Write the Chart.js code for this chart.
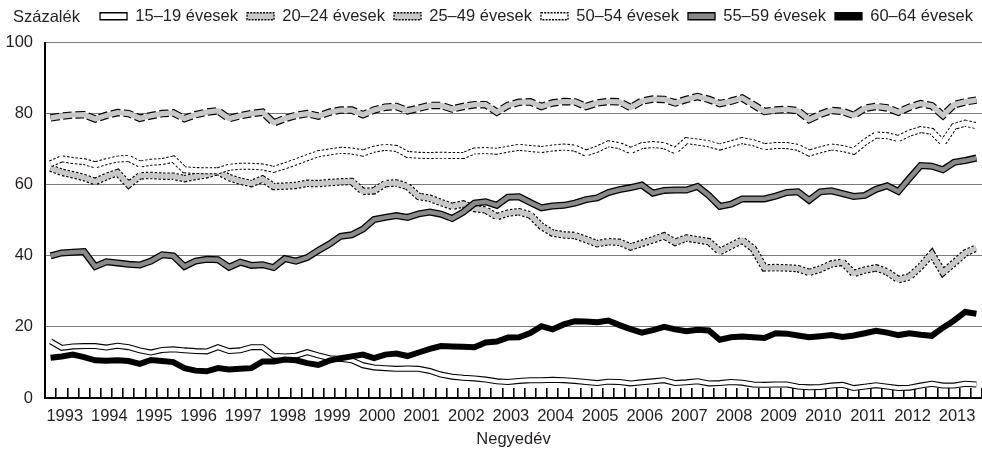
<!DOCTYPE html>
<html><head><meta charset="utf-8">
<script src="https://cdn.jsdelivr.net/npm/chart.js@4.4.1/dist/chart.umd.min.js"></script>
<style>
html,body{margin:0;padding:0;background:#fff;}
#wrap{position:relative;width:982px;height:451px;}
#unit{position:absolute;left:13px;top:8px;font-size:16.5px;line-height:17px;font-family:"Liberation Sans",Arial,sans-serif;color:#231f20;}
</style></head><body>
<div id="wrap"><canvas id="c" width="982" height="451"></canvas><div id="unit">Százalék</div></div>
<script>
const years = ['1993','1994','1995','1996','1997','1998','1999','2000','2001','2002','2003','2004','2005','2006','2007','2008','2009','2010','2011','2012','2013'];
const quarters = ['I.','II.','III.','IV.'];
const categories = years.flatMap(y => quarters.map(q => y + '. ' + q));
const seriesNames = ['15–19 évesek','20–24 évesek','25–49 évesek','50–54 évesek','55–59 évesek','60–64 évesek'];

const s15_19 = [15.9,14.1,14.5,14.6, 14.6,14.2,14.7,14.3, 13.4,12.8,13.5,13.7, 13.4,13.2,13.1,14.3, 13.2,13.4,14.3,14.3, 11.9,11.7,11.9,12.9, 12.0,11.2,11.0,10.6, 9.2,8.6,8.4,8.2, 8.3,8.2,7.6,6.6, 6.0,5.7,5.5,5.2, 4.7,4.5,4.8,5.0, 5.0,5.1,5.0,4.8, 4.5,4.2,4.6,4.5, 4.1,4.4,4.7,5.0, 4.2,4.4,4.7,4.1, 4.2,4.5,4.3,3.8, 3.7,3.8,3.8,3.2, 3.0,3.1,3.5,3.7, 2.8,3.2,3.6,3.2, 2.8,2.9,3.5,4.0, 3.5,3.5,4.0,3.8];
const s20_24 = [64.7,63.5,62.8,62.0, 60.9,62.3,63.4,60.0, 62.5,62.6,62.4,62.4, 61.7,62.3,62.8,63.7, 62.0,61.0,60.3,61.6, 59.5,59.6,59.8,60.4, 60.3,60.6,60.8,60.9, 58.1,58.3,60.3,60.5, 59.5,56.7,56.2,55.0, 53.9,54.6,53.3,52.9, 51.0,52.0,52.4,51.5, 48.3,46.4,45.9,45.7, 44.6,43.4,44.0,43.8, 42.5,43.5,44.5,45.6, 43.8,45.0,44.5,44.0, 41.2,42.8,44.4,42.0, 36.6,36.7,36.6,36.4, 35.3,36.3,37.7,38.2, 35.0,36.0,36.6,35.5, 33.3,34.1,37.0,40.6, 35.3,38.0,40.8,42.2];
const s25_49 = [78.8,79.3,79.6,79.7, 78.5,79.5,80.3,80.0, 78.7,79.4,80.0,80.2, 78.6,79.7,80.4,80.8, 78.6,79.4,80.0,80.4, 77.4,78.6,79.5,80.0, 79.3,80.4,81.0,81.0, 79.7,81.0,81.8,82.0, 80.8,81.5,82.3,82.3, 81.3,82.0,82.5,82.5, 80.4,82.3,83.2,83.3, 82.0,83.0,83.4,83.3, 82.0,83.0,83.4,83.3, 81.7,83.5,84.1,84.0, 83.0,84.0,84.8,84.0, 82.8,83.5,84.4,82.5, 80.6,81.0,81.2,80.8, 78.3,79.8,80.9,80.6, 79.5,81.5,82.0,81.6, 80.4,81.8,82.8,82.2, 79.5,82.5,83.3,83.8];
const s50_54 = [65.9,67.3,66.8,66.5, 65.6,66.5,67.2,67.4, 65.8,66.3,66.5,67.2, 64.2,64.0,63.9,63.9, 64.9,65.2,65.2,65.0, 64.3,65.3,66.4,67.6, 68.7,69.2,69.7,69.5, 68.9,70.0,70.5,70.2, 68.5,68.3,68.2,68.3, 68.2,68.2,69.5,69.6, 69.4,70.0,70.5,70.2, 69.9,70.3,70.6,70.3, 68.9,70.0,71.5,71.0, 69.6,71.0,71.3,71.0, 69.6,72.4,72.0,71.5, 70.6,71.5,72.4,71.8, 70.7,71.0,71.0,70.5, 68.9,69.8,70.6,70.2, 69.4,72.0,74.0,73.8, 73.0,74.5,75.5,75.0, 71.8,76.4,77.3,76.6];
const s55_59 = [40.0,40.8,41.0,41.2, 37.0,38.3,38.0,37.6, 37.4,38.5,40.3,40.0, 37.0,38.5,39.0,38.9, 36.8,38.2,37.3,37.5, 36.7,39.2,38.5,39.5, 41.5,43.3,45.5,45.9, 47.5,50.2,50.8,51.3, 50.8,51.8,52.3,51.7, 50.5,52.3,54.8,55.2, 54.2,56.5,56.6,55.0, 53.5,54.0,54.2,54.8, 55.8,56.3,57.8,58.6, 59.2,59.9,57.6,58.4, 58.5,58.5,59.5,57.0, 53.9,54.5,56.0,56.0, 56.0,56.8,57.8,58.0, 55.6,58.0,58.3,57.5, 56.7,57.0,58.7,59.7, 58.1,61.8,65.4,65.2, 64.2,66.3,66.8,67.5];
const s60_64 = [11.3,11.7,12.2,11.5, 10.6,10.5,10.6,10.4, 9.6,10.7,10.4,10.1, 8.4,7.7,7.5,8.4, 8.0,8.2,8.4,10.3, 10.3,10.8,10.6,9.8, 9.3,10.5,11.2,11.7, 12.2,11.2,12.2,12.5, 11.8,12.8,13.8,14.6, 14.5,14.4,14.3,15.6, 15.9,17.0,17.1,18.3, 20.2,19.3,20.7,21.6, 21.5,21.3,21.8,20.5, 19.4,18.4,19.1,20.0, 19.3,18.8,19.2,19.0, 16.4,17.1,17.3,17.1, 16.9,18.2,18.1,17.6, 17.1,17.4,17.7,17.2, 17.6,18.2,18.9,18.4, 17.7,18.2,17.8,17.5, 19.8,21.8,24.2,23.7];

const LIGHT = '#c8c8c8', MID = '#8a8a8a', INK = '#000';
const FONT = '"Liberation Sans", Arial, sans-serif';
const FS = 16.5;
const styles = [
  {data:s15_19, edge:INK, dash:[], outer:6, inner:'#ffffff', innerW:3.8},
  {data:s20_24, edge:INK, dash:[2.5,1.8], outer:7.5, inner:LIGHT, innerW:5.2},
  {data:s25_49, edge:INK, dash:[9,3.5], outer:7.5, inner:LIGHT, innerW:5.2},
  {data:s50_54, edge:INK, dash:[2.5,1.8], outer:7, inner:'#ffffff', innerW:5},
  {data:s55_59, edge:INK, dash:[], outer:7, inner:MID, innerW:4.4},
  {data:s60_64, edge:INK, dash:[], outer:6, inner:null}
];
const datasets = [];
styles.forEach((s, k) => {
  datasets.push({label:seriesNames[k], data:s.data, borderColor:s.edge, borderWidth:s.outer, borderDash:s.dash,
    pointRadius:0, tension:0, fill:false, order:40-2*k, borderCapStyle:'butt'});
  if (s.inner) datasets.push({label:seriesNames[k]+' ', data:s.data, borderColor:s.inner, borderWidth:s.innerW,
    pointRadius:0, tension:0, fill:false, order:39-2*k, borderCapStyle:'butt'});
});

const legendSpacer = {
  id:'legendSpacer',
  beforeUpdate(chart){
    const lg = chart.legend;
    if (lg && !lg._patched) {
      const orig = lg.fit;
      lg.fit = function(){ orig.call(this); this.height += 8; };
      lg._patched = true;
    }
  }
};

new Chart(document.getElementById('c'), {
  type:'line',
  data:{labels:categories, datasets},
  plugins:[legendSpacer],
  options:{
    responsive:false, animation:false,
    layout:{padding:{top:-1, left:0, right:0, bottom:0}},
    plugins:{
      tooltip:{enabled:false},
      legend:{
        position:'top', align:'end', onClick:null,
        labels:{
          boxWidth:27, boxHeight:7, padding:9, color:'#231f20',
          font:{family:FONT, size:FS},
          generateLabels:() => styles.map((s,k) => ({
            text:seriesNames[k], fillStyle:s.inner || INK, strokeStyle:INK, lineWidth:1.3,
            lineDash:s.dash.length ? [2,1.2] : [], hidden:false, datasetIndex:k, fontColor:'#231f20'
          }))
        }
      }
    },
    scales:{
      x:{
        type:'category', offset:true,
        grid:{offset:true, drawOnChartArea:false, drawTicks:true, tickLength:-10, color:INK, lineWidth:1.6},
        border:{display:true, color:INK, width:2},
        ticks:{autoSkip:false, maxRotation:0, minRotation:0, padding:4, labelOffset:3, color:'#231f20',
          font:{family:FONT, size:FS, lineHeight:3.0},
          callback:(v,i) => (i % 4 === 1 ? years[Math.floor(i/4)] : '')},
        title:{display:true, text:'Negyedév', color:'#231f20', font:{family:FONT, size:FS}, padding:{top:0, bottom:2}},
        afterFit:(s) => { s.height = 53; }
      },
      y:{
        min:0, max:100,
        ticks:{stepSize:20, padding:12, color:'#231f20', font:{family:FONT, size:FS}},
        grid:{color:'#7a7a7a', lineWidth:1, drawTicks:false},
        border:{display:true, color:INK, width:2},
        afterFit:(s) => { s.width = 45; }
      }
    }
  }
});
</script>
</body></html>
